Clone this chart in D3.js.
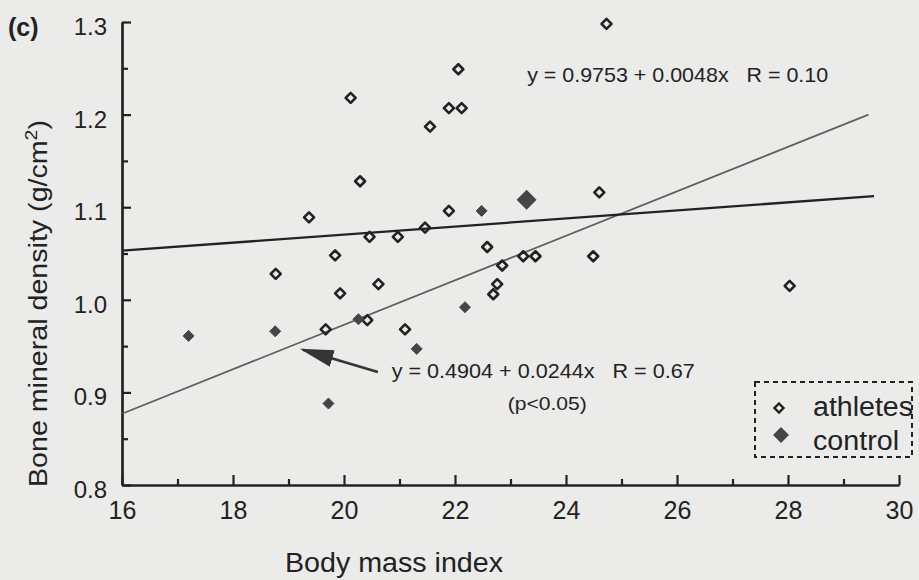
<!DOCTYPE html>
<html>
<head>
<meta charset="utf-8">
<script src="https://cdn.jsdelivr.net/npm/d3@7"></script>
<style>
  body { margin: 0; background: #ebebea; }
  svg { display: block; font-family: "Liberation Sans", Arial, sans-serif; }
</style>
</head>
<body>
<div id="svg-area"></div>
<script>
var svgWidth = 919;
var svgHeight = 580;

// athletes: [body mass index, bone mineral density]
var athletes = [
  [22.06, 1.249], [20.12, 1.218], [21.89, 1.207], [22.12, 1.207], [21.55, 1.187],
  [20.29, 1.128], [19.37, 1.089], [21.89, 1.096], [21.46, 1.078], [20.46, 1.068],
  [20.97, 1.068], [22.58, 1.057], [19.84, 1.048], [22.85, 1.037], [23.23, 1.047],
  [23.45, 1.047], [18.77, 1.028], [20.62, 1.017], [19.93, 1.007], [22.76, 1.017],
  [22.69, 1.006], [24.73, 1.298], [24.60, 1.116], [24.49, 1.047], [28.03, 1.015],
  [19.67, 0.968], [20.42, 0.978], [21.10, 0.968]
];

// control group
var control = [
  [17.20, 0.961], [18.76, 0.966], [19.72, 0.888], [20.26, 0.979],
  [21.31, 0.947], [22.18, 0.992], [22.48, 1.096]
];

// large control marker
var controlMean = [[23.29, 1.108]];

// fitted lines, end points
var athleteFit = [[16, 1.053], [29.55, 1.112]];
var pooledFit = [[16, 0.877], [29.45, 1.200]];

var xMajor = [16, 18, 20, 22, 24, 26, 28, 30];
var xMinor = [17, 19, 21, 23, 25, 27, 29];
var yMajor = [0.8, 0.9, 1.0, 1.1, 1.2, 1.3];
var yMinor = [0.85, 0.95, 1.05, 1.15, 1.25];

var svg = d3.select("#svg-area")
  .append("svg")
  .attr("width", svgWidth)
  .attr("height", svgHeight);

var xScale = d3.scaleLinear().domain([16, 30]).range([122, 899]);
var yScale = d3.scaleLinear().domain([0.8, 1.3]).range([485, 22]);

var ink = "#222";

// axes
var xAxis = svg.append("g")
  .attr("transform", "translate(0," + yScale(0.8) + ")")
  .call(d3.axisBottom(xScale).tickValues(xMajor).tickSize(-10).tickSizeOuter(0)
    .tickPadding(16).tickFormat(d3.format("d")));
svg.append("g")
  .attr("transform", "translate(0," + yScale(0.8) + ")")
  .call(d3.axisBottom(xScale).tickValues(xMinor).tickSize(-6).tickSizeOuter(0).tickFormat(""));

var yAxis = svg.append("g")
  .attr("transform", "translate(" + xScale(16) + ",0)")
  .call(d3.axisLeft(yScale).tickValues(yMajor).tickSize(-9).tickSizeOuter(0)
    .tickPadding(15).tickFormat(d3.format(".1f")));
svg.append("g")
  .attr("transform", "translate(" + xScale(16) + ",0)")
  .call(d3.axisLeft(yScale).tickValues(yMinor).tickSize(-6).tickSizeOuter(0).tickFormat(""));

svg.selectAll(".domain").attr("stroke", ink).attr("stroke-width", 2.2);
svg.selectAll(".tick line").attr("stroke", ink).attr("stroke-width", 2.2);
xAxis.selectAll("text").attr("font-size", 25).attr("fill", ink)
  .attr("font-family", "Liberation Sans, Arial, sans-serif");
yAxis.selectAll("text").attr("font-size", 24).attr("fill", ink).attr("dy", "0.52em")
  .attr("font-family", "Liberation Sans, Arial, sans-serif");

// axis titles
svg.append("text")
  .attr("x", 285).attr("y", 572)
  .attr("font-size", 27).attr("fill", ink)
  .attr("textLength", 218).attr("lengthAdjust", "spacingAndGlyphs")
  .text("Body mass index");

var yTitle = svg.append("text")
  .attr("transform", "translate(47,487) rotate(-90)")
  .attr("font-size", 25).attr("fill", ink)
  .attr("textLength", 367).attr("lengthAdjust", "spacingAndGlyphs");
yTitle.append("tspan").text("Bone mineral density (g/cm");
yTitle.append("tspan").attr("font-size", 17).attr("dy", -10).text("2");
yTitle.append("tspan").attr("dy", 10).text(")");

svg.append("text")
  .attr("x", 8).attr("y", 36)
  .attr("font-size", 25).attr("font-weight", "bold").attr("fill", ink)
  .text("(c)");

// fitted lines
var line = d3.line().x(d => xScale(d[0])).y(d => yScale(d[1]));
svg.append("path")
  .attr("d", line(pooledFit))
  .attr("fill", "none").attr("stroke", "#606060").attr("stroke-width", 1.7);
svg.append("path")
  .attr("d", line(athleteFit))
  .attr("fill", "none").attr("stroke", ink).attr("stroke-width", 2.3);

// points
var diamond = function(r) {
  return "M0," + (-r) + "L" + r + ",0L0," + r + "L" + (-r) + ",0Z";
};

svg.selectAll(".athlete")
  .data(athletes)
  .enter().append("path")
  .attr("class", "athlete")
  .attr("transform", d => "translate(" + xScale(d[0]) + "," + yScale(d[1]) + ")")
  .attr("d", diamond(5))
  .attr("fill", "none").attr("stroke", ink).attr("stroke-width", 2.6)
  .attr("stroke-linejoin", "round");

svg.selectAll(".control")
  .data(control)
  .enter().append("path")
  .attr("class", "control")
  .attr("transform", d => "translate(" + xScale(d[0]) + "," + yScale(d[1]) + ")")
  .attr("d", diamond(5.5))
  .attr("fill", "#454545").attr("stroke", "#454545").attr("stroke-width", 1);

svg.selectAll(".control-mean")
  .data(controlMean)
  .enter().append("path")
  .attr("class", "control-mean")
  .attr("transform", d => "translate(" + xScale(d[0]) + "," + yScale(d[1]) + ")")
  .attr("d", diamond(10))
  .attr("fill", "#454545");

// equations
svg.append("text")
  .attr("x", xScale(23.30)).attr("y", yScale(1.235))
  .attr("font-size", 21).attr("fill", ink)
  .attr("textLength", 301).attr("lengthAdjust", "spacingAndGlyphs")
  .attr("xml:space", "preserve")
  .text("y = 0.9753 + 0.0048x   R = 0.10");

svg.append("text")
  .attr("x", xScale(20.86)).attr("y", yScale(0.9155))
  .attr("font-size", 21).attr("fill", ink)
  .attr("textLength", 303).attr("lengthAdjust", "spacingAndGlyphs")
  .attr("xml:space", "preserve")
  .text("y = 0.4904 + 0.0244x   R = 0.67");

svg.append("text")
  .attr("x", xScale(22.95)).attr("y", yScale(0.881))
  .attr("font-size", 18).attr("fill", ink)
  .attr("textLength", 79).attr("lengthAdjust", "spacingAndGlyphs")
  .text("(p<0.05)");

// arrow pointing at the pooled line
var arrowTail = [20.61, 0.922];
var arrowTip = [19.26, 0.946];
svg.append("defs").append("marker")
  .attr("id", "head")
  .attr("viewBox", "0 0 10 10")
  .attr("preserveAspectRatio", "none")
  .attr("refX", 9).attr("refY", 5)
  .attr("markerWidth", 34).attr("markerHeight", 17)
  .attr("markerUnits", "userSpaceOnUse")
  .attr("orient", "auto")
  .append("path")
  .attr("d", "M0,0L10,5L0,10Z")
  .attr("fill", "#353535");
svg.append("path")
  .attr("d", line([arrowTail, arrowTip]))
  .attr("stroke", "#353535").attr("stroke-width", 2.6)
  .attr("marker-end", "url(#head)");

// legend
var legend = svg.append("g");
legend.append("rect")
  .attr("x", 755).attr("y", 382).attr("width", 157).attr("height", 75)
  .attr("fill", "none").attr("stroke", ink).attr("stroke-width", 2)
  .attr("stroke-dasharray", "5,4");
legend.append("path")
  .attr("transform", "translate(779,408)")
  .attr("d", diamond(4.5))
  .attr("fill", "none").attr("stroke", ink).attr("stroke-width", 2.4);
legend.append("path")
  .attr("transform", "translate(781,435)")
  .attr("d", diamond(8))
  .attr("fill", "#454545");
legend.append("text")
  .attr("x", 813).attr("y", 416)
  .attr("font-size", 27).attr("fill", ink)
  .attr("textLength", 100).attr("lengthAdjust", "spacingAndGlyphs")
  .text("athletes");
legend.append("text")
  .attr("x", 813).attr("y", 450)
  .attr("font-size", 27).attr("fill", ink)
  .attr("textLength", 86).attr("lengthAdjust", "spacingAndGlyphs")
  .text("control");
</script>
</body>
</html>
